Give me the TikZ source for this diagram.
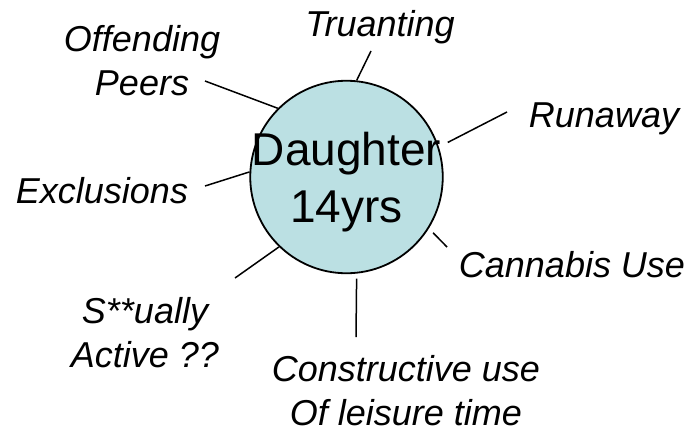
\documentclass[tikz,border=0pt]{standalone}
\usepackage{fontspec}
\setmainfont{Liberation Sans}
\definecolor{hub}{HTML}{BBE0E3}
\begin{document}
\begin{tikzpicture}[x=1pt,y=-1pt,
  lbl/.style={font=\fontsize{36}{43.5}\selectfont\itshape, align=center, anchor=base, inner sep=0pt},
  spoke/.style={line width=1.5pt}]
\useasboundingbox (0,0) rectangle (692,434);
\node[circle, draw, line width=1.8pt, fill=hub, minimum size=192.5pt, inner sep=0pt,
  label={[font=\fontsize{46}{57}\selectfont, align=center, yshift=-5.6pt]center:Daughter\\14yrs}] (daughter) at (346.5,177) {};
\node[lbl] (tru) at (380,36) {Truanting};
\node[lbl] (off) at (142,95) {Offending\\Peers};
\node[lbl] (run) at (604,127) {Runaway};
\node[lbl] (exc) at (102,203) {Exclusions};
\node[lbl] (can) at (572,277) {Cannabis Use};
\node[lbl] (sex) at (145,367) {S**ually\\Active ??};
\node[lbl] (con) at (406,425) {Constructive use\\Of leisure time};
\coordinate (truend) at (371,51);
\coordinate (offend) at (205,81);
\coordinate (runend) at (507,112);
\coordinate (excend) at (205,186);
\coordinate (canend) at (447,247);
\coordinate (sexend) at (235,278);
\coordinate (conend) at (356,337);
\draw[spoke] (daughter.84.3) -- (truend);
\draw[spoke] (daughter.135.6) -- (offend);
\draw[spoke, shorten <=10pt] (daughter.18.5) -- (runend);
\draw[spoke] (daughter.177.6) -- (excend);
\draw[spoke, shorten <=6pt] (daughter.-32.8) -- (canend);
\draw[spoke] (daughter.226.4) -- (sexend);
\draw[spoke, shorten <=5pt] (daughter.-84.6) -- (conend);
\end{tikzpicture}
\end{document}
